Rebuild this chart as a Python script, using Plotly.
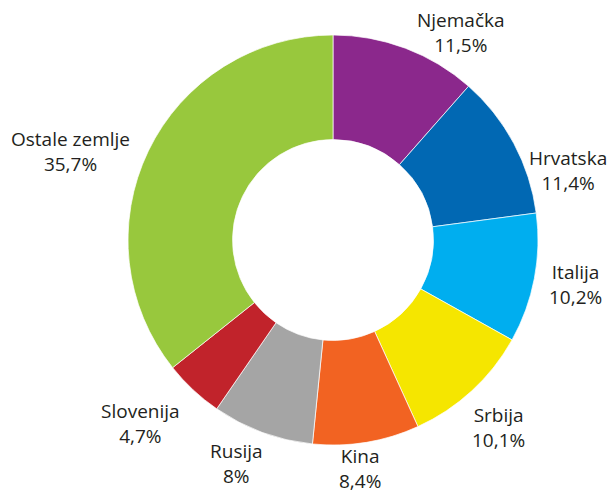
import math
import plotly.graph_objects as go

countries = ["Njemačka", "Hrvatska", "Italija", "Srbija", "Kina", "Rusija", "Slovenija", "Ostale zemlje"]
shares = [11.5, 11.4, 10.2, 10.1, 8.4, 8.0, 4.7, 35.7]
share_labels = ["11,5%", "11,4%", "10,2%", "10,1%", "8,4%", "8%", "4,7%", "35,7%"]
colors = ["#8B288C", "#0168B3", "#00AEEF", "#F5E600", "#F26322", "#A5A5A5", "#C1232B", "#98C83D"]

# label layout: anchors and small nudges (px)
x_anchor = ["left", "left", "left", "left", "center", "right", "right", "right"]
y_anchor = ["middle", "top", "middle", "top", "top", "top", "top", "middle"]
x_nudge = [5, 3, 1, -10, -8, 7, -3, -6]
y_nudge = [-5, 5, 4, 0, -13, -8, -3, 6]

W, H = 609, 493
CX, CY, R = 333, 240, 205
GAP = 12

fig = go.Figure(go.Pie(
    labels=countries,
    values=shares,
    textinfo="none",
    sort=False,
    direction="clockwise",
    rotation=0,
    hole=0.49,
    marker=dict(colors=colors, line=dict(color="white", width=0.7)),
    showlegend=False,
    hoverinfo="label+percent",
    domain=dict(x=[(CX - R) / W, (CX + R) / W], y=[(H - CY - R) / H, (H - CY + R) / H]),
))

total = sum(shares)
cum = 0.0
annotations = []
for i, (c, s, v) in enumerate(zip(countries, share_labels, shares)):
    mid = (cum + v / 2) / total * 2 * math.pi
    cum += v
    px = CX + (R + GAP) * math.sin(mid)
    py = CY - (R + GAP) * math.cos(mid)
    annotations.append(dict(
        x=px / W, y=(H - py) / H, xref="paper", yref="paper",
        text=f"{c}<br>{s}", showarrow=False,
        xanchor=x_anchor[i], yanchor=y_anchor[i], align="center",
        xshift=x_nudge[i], yshift=-y_nudge[i],
        font=dict(family="Open Sans", size=19, color="#231F20"),
    ))

fig.update_layout(
    width=W, height=H,
    margin=dict(l=0, r=0, t=0, b=0),
    paper_bgcolor="white",
    plot_bgcolor="white",
    annotations=annotations,
)

fig.write_html("out.html", config={"displayModeBar": False},
               post_script="document.body.style.margin='0';")
